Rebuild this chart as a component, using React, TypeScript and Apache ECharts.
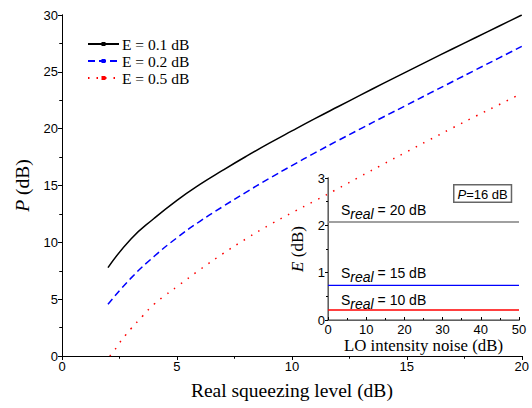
import React, { useEffect, useRef } from "react";
import * as echarts from "echarts";

const blackX = [2, 3, 4, 5, 6, 7, 8, 9, 10, 11, 12, 13, 14, 15, 16, 17, 18, 19, 20];
const blackY = [7.77, 10.3, 12.1, 13.7, 15.1, 16.35, 17.55, 18.7, 19.8, 20.88, 21.93, 22.97, 24.0, 25.02, 26.03, 27.03, 28.02, 29.01, 30.0];
const blueX = [2, 3, 4, 5, 6, 7, 8, 9, 10, 11, 12, 13, 14, 15, 16, 17, 18, 19, 20];
const blueY = [4.55, 6.85, 8.75, 10.4, 11.85, 13.15, 14.4, 15.6, 16.75, 17.87, 18.95, 20.0, 21.05, 22.08, 23.12, 24.15, 25.18, 26.21, 27.24];
const redX = [2.08, 2.3, 2.5, 2.75, 3, 3.5, 4, 4.5, 5, 6, 7, 8, 9, 10, 11, 12, 13, 14, 15, 16, 17, 18, 19, 20];
const redY = [0, 0.55, 1.15, 1.8, 2.4, 3.5, 4.55, 5.35, 6.1, 7.6, 9.0, 10.3, 11.5, 12.6, 13.65, 14.72, 15.82, 16.9, 17.97, 19.03, 20.08, 21.1, 22.1, 23.1];

const seriesNames = ["E = 0.1 dB", "E = 0.2 dB", "E = 0.5 dB"];

const insetX = [0, 50];
const insetS20 = [2.07, 2.07];
const insetS15 = [0.73, 0.73];
const insetS10 = [0.21, 0.21];

const pairs = (xs: number[], ys: number[]) => xs.map((x, i) => [x, ys[i]]);

const SANS = "Liberation Sans";
const SERIF = "Liberation Serif";

export default function App() {
  const ref = useRef<HTMLDivElement>(null);
  useEffect(() => {
    document.body.style.margin = "0";
    if (!ref.current) return;
    const chart = echarts.init(ref.current, null, { renderer: "svg" });
    const axisLineBlack = { show: true, lineStyle: { color: "#000", width: 1 } };
    const labelStyle = { fontFamily: SANS, fontSize: 13, color: "#000" };
    const sRich = {
      s: { fontFamily: SANS, fontSize: 14, color: "#000", lineHeight: 20 },
      sub: { fontFamily: SANS, fontSize: 14, fontStyle: "italic", color: "#000", lineHeight: 20, padding: [9, 0, 0, 0] },
    };
    const option: any = {
      animation: false,
      backgroundColor: "#fff",
      grid: [
        { left: 62, right: 5, top: 15, bottom: 52 },
        { left: 328, width: 191, top: 178, height: 142 },
      ],
      legend: {
        data: seriesNames,
        orient: "vertical",
        left: 82,
        top: 31,
        itemWidth: 31,
        itemHeight: 5,
        itemGap: 1,
        textStyle: { fontFamily: SERIF, fontSize: 15.5, color: "#000", padding: [0, 0, 0, -2] },
      },
      xAxis: [
        {
          gridIndex: 0, type: "value", min: 0, max: 20, interval: 5,
          axisLine: axisLineBlack,
          axisTick: { show: true, length: 4, lineStyle: { color: "#000" } },
          minorTick: { show: true, splitNumber: 2, length: 2.5, lineStyle: { color: "#000" } },
          splitLine: { show: false },
          axisLabel: { ...labelStyle, margin: 4 },
          name: "Real squeezing level (dB)", nameLocation: "middle", nameGap: 24,
          nameTextStyle: { fontFamily: SERIF, fontSize: 19.5, color: "#000" },
        },
        {
          gridIndex: 0, type: "value", min: 0, max: 20, interval: 5, position: "top",
          axisLine: axisLineBlack,
          axisTick: { show: true, inside: true, length: 4, lineStyle: { color: "#000" } },
          minorTick: { show: true, splitNumber: 2, length: 2.5, lineStyle: { color: "#000" } },
          splitLine: { show: false }, axisLabel: { show: false },
        },
        {
          gridIndex: 1, type: "value", min: 0, max: 50, interval: 10,
          axisLine: axisLineBlack,
          axisTick: { show: true, inside: true, length: 3, lineStyle: { color: "#000" } },
          minorTick: { show: true, splitNumber: 2, length: 2, lineStyle: { color: "#000" } },
          splitLine: { show: false },
          axisLabel: { ...labelStyle, margin: 3 },
          name: "LO intensity noise (dB)", nameLocation: "middle", nameGap: 14,
          nameTextStyle: { fontFamily: SERIF, fontSize: 16.8, color: "#000" },
        },
        {
          gridIndex: 1, type: "value", min: 0, max: 50, interval: 10, position: "top",
          axisLine: { show: true, lineStyle: { color: "#808080", width: 1.5 } },
          axisTick: { show: false }, splitLine: { show: false }, axisLabel: { show: false },
        },
      ],
      yAxis: [
        {
          gridIndex: 0, type: "value", min: 0, max: 30, interval: 5,
          axisLine: axisLineBlack,
          axisTick: { show: true, length: 4, lineStyle: { color: "#000" } },
          minorTick: { show: true, splitNumber: 2, length: 2.5, lineStyle: { color: "#000" } },
          splitLine: { show: false },
          axisLabel: { ...labelStyle, margin: 4 },
          name: "{i|P} (dB)", nameLocation: "middle", nameGap: 24,
          nameTextStyle: {
            fontFamily: SERIF, fontSize: 19.5, color: "#000",
            rich: { i: { fontFamily: SERIF, fontSize: 19.5, fontStyle: "italic", color: "#000" } },
          },
        },
        {
          gridIndex: 0, type: "value", min: 0, max: 30, interval: 5, position: "right",
          axisLine: axisLineBlack,
          axisTick: { show: true, inside: true, length: 4, lineStyle: { color: "#000" } },
          minorTick: { show: true, splitNumber: 2, length: 2.5, lineStyle: { color: "#000" } },
          splitLine: { show: false }, axisLabel: { show: false },
        },
        {
          gridIndex: 1, type: "value", min: 0, max: 3, interval: 1,
          axisLine: axisLineBlack,
          axisTick: { show: true, length: 3, lineStyle: { color: "#000" } },
          minorTick: { show: true, splitNumber: 2, length: 2, lineStyle: { color: "#000" } },
          splitLine: { show: false },
          axisLabel: { ...labelStyle, margin: 3 },
          name: "{i|E} (dB)", nameLocation: "middle", nameGap: 22,
          nameTextStyle: {
            fontFamily: SERIF, fontSize: 17, color: "#000",
            rich: { i: { fontFamily: SERIF, fontSize: 17, fontStyle: "italic", color: "#000" } },
          },
        },
        {
          gridIndex: 1, type: "value", min: 0, max: 3, interval: 1, position: "right",
          axisLine: { show: true, lineStyle: { color: "#808080", width: 1.5 } },
          axisTick: { show: false }, splitLine: { show: false }, axisLabel: { show: false },
        },
      ],
      series: [
        {
          name: seriesNames[0], type: "line", xAxisIndex: 0, yAxisIndex: 0,
          data: pairs(blackX, blackY), smooth: 0.5, showSymbol: false, symbol: "rect", symbolSize: 4,
          itemStyle: { color: "#000" }, lineStyle: { color: "#000", width: 1.5 },
        },
        {
          name: seriesNames[1], type: "line", xAxisIndex: 0, yAxisIndex: 0,
          data: pairs(blueX, blueY), smooth: 0.5, showSymbol: false, symbol: "rect", symbolSize: 4,
          itemStyle: { color: "#0000ff" }, lineStyle: { color: "#0000ff", width: 1.5, type: [7, 4] },
        },
        {
          name: seriesNames[2], type: "line", xAxisIndex: 0, yAxisIndex: 0,
          data: pairs(redX, redY), smooth: 0.5, showSymbol: false, symbol: "rect", symbolSize: 4,
          itemStyle: { color: "#ff0000" }, lineStyle: { color: "#ff0000", width: 1.5, type: [1.5, 7] },
        },
        {
          name: "S20", type: "line", xAxisIndex: 2, yAxisIndex: 2,
          data: pairs(insetX, insetS20), showSymbol: false,
          lineStyle: { color: "#808080", width: 1.5 },
        },
        {
          name: "S15", type: "line", xAxisIndex: 2, yAxisIndex: 2,
          data: pairs(insetX, insetS15), showSymbol: false,
          lineStyle: { color: "#0000ff", width: 1.2 },
        },
        {
          name: "S10", type: "line", xAxisIndex: 2, yAxisIndex: 2,
          data: pairs(insetX, insetS10), showSymbol: false,
          lineStyle: { color: "#ff0000", width: 1.5 },
        },
      ],
      graphic: [
        { type: "text", left: 341, top: 198, style: { text: "{s|S}{sub|real}{s| = 20 dB}", rich: sRich } },
        { type: "text", left: 341, top: 261, style: { text: "{s|S}{sub|real}{s| = 15 dB}", rich: sRich } },
        { type: "text", left: 341, top: 288, style: { text: "{s|S}{sub|real}{s| = 10 dB}", rich: sRich } },
        {
          type: "text", left: 453, top: 184,
          style: {
            text: "{i|P}{n|=16 dB}",
            rich: {
              i: { fontFamily: SANS, fontSize: 13, fontStyle: "italic", color: "#000" },
              n: { fontFamily: SANS, fontSize: 13, color: "#000" },
            },
            padding: [2, 3, 1, 3],
            borderColor: "#666",
            borderWidth: 1.5,
            backgroundColor: "#fff",
          },
        },
      ],
    };
    chart.setOption(option);
    return () => chart.dispose();
  }, []);
  return <div ref={ref} style={{ width: 532, height: 408 }} />;
}
